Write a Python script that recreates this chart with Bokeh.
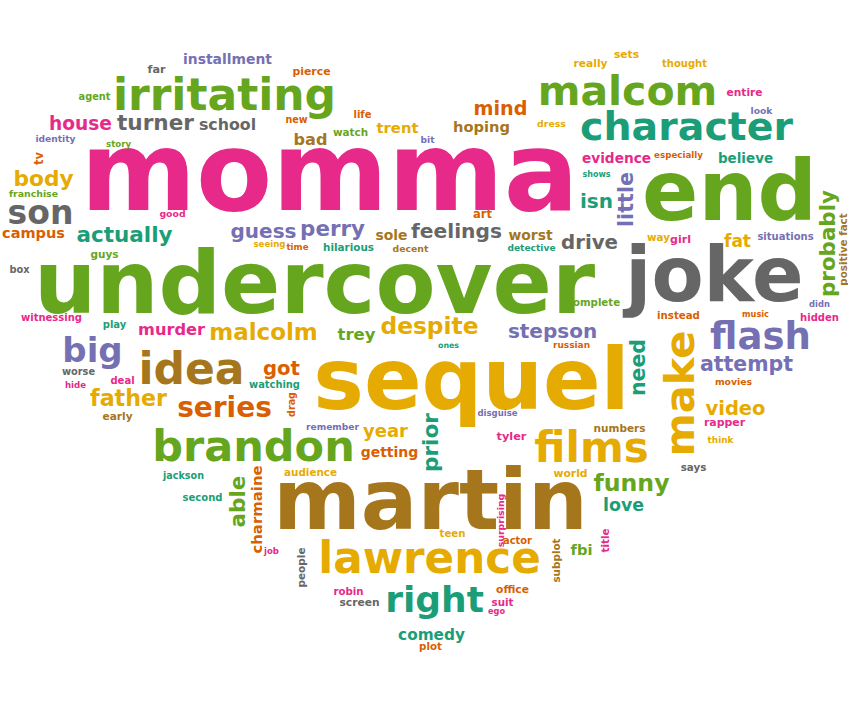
import numpy as np
from bokeh.plotting import figure
from bokeh.models import ColumnDataSource, Range1d
from bokeh.core.properties import value
from bokeh.embed import file_html
from bokeh.resources import INLINE

# words of the cloud and their weight (weight ~ font size in px)
words = [
    "momma", "undercover", "sequel", "martin", "end", "joke",
    "irritating", "malcom", "character", "brandon", "lawrence", "films",
    "idea", "flash", "right", "big", "make", "probably",
    "series", "malcolm", "despite", "stepson", "actually", "son",
    "body", "house", "turner", "school", "feelings", "guess",
    "perry", "drive", "little", "evidence", "father", "video",
    "attempt", "funny", "mind", "hoping", "murder", "year",
    "getting", "got", "need", "prior", "able", "charmaine",
    "love", "comedy", "trent", "bad", "trey", "sole",
    "worst", "installment", "campus", "isn", "believe", "audience",
    "witnessing", "remember", "complete", "instead", "hidden", "situations",
    "fat", "detective", "hilarious", "decent", "jackson", "second",
    "tyler", "numbers", "world", "office", "screen", "robin",
    "suit", "ego", "plot", "teen", "actor", "fbi",
    "title", "subplot", "surprising", "people", "job", "disguise",
    "ones", "russian", "movies", "rapper", "think", "says",
    "didn", "music", "way", "girl", "positive fact", "entire",
    "look", "thought", "really", "sets", "especially", "shows",
    "dress", "art", "bit", "watch", "life", "new",
    "pierce", "far", "agent", "identity", "story", "tv",
    "franchise", "good", "seeing", "time", "guys", "box",
    "play", "worse", "deal", "hide", "watching", "early",
    "drag",
]
counts = [
    111, 87.5, 85, 84, 83, 76,
    44, 41, 39.5, 43, 43.7, 42,
    44, 37, 36, 34, 41.5, 21.4,
    28, 23, 23.3, 20, 21.5, 33,
    21.7, 18.6, 21.6, 15.8, 20.2, 20,
    21.4, 19.8, 20.7, 13.7, 22.2, 19.5,
    20.5, 23.6, 19.2, 14.7, 16.2, 18,
    14, 19.7, 20.5, 21.6, 21.5, 14.9,
    17.4, 15.3, 14.8, 16.1, 16.5, 13.9,
    13.9, 13.9, 14.5, 20, 13.5, 10.4,
    10, 9.1, 10.2, 10.2, 10, 10,
    17, 9.1, 10.4, 9.3, 9.6, 10,
    11.3, 10.5, 10.8, 10.7, 10.7, 10.2,
    10.3, 8.2, 10.3, 10.2, 9.9, 14.7,
    10.3, 10.4, 9.4, 10.5, 8.6, 8.5,
    7.9, 9, 9.3, 10.9, 8.9, 10.3,
    8.4, 8.2, 10.3, 11, 10.3, 10.6,
    9.2, 10, 10.7, 10.7, 8.7, 8,
    9.4, 11.5, 9.1, 10.4, 10, 9.6,
    10.9, 11.2, 9.8, 9.1, 8.6, 11.5,
    9.4, 9.3, 8.6, 8.7, 10.5, 9.8,
    10, 9.8, 10, 8.6, 9.9, 10.6,
    9.6,
]

# placement in the heart (x centre, baseline y in page pixels, rotation in degrees)
word_x = [
    329, 314, 471, 430, 729, 714,
    224, 627, 686, 253, 429, 591,
    191, 760, 434, 92, 694, 835,
    224, 263, 429, 552, 124, 40,
    43, 80, 155, 227, 456, 263,
    332, 589, 633, 616, 128, 735,
    746, 631, 500, 481, 171, 385,
    389, 281, 645, 438, 245, 262,
    623, 431, 397, 310, 356, 391,
    530, 227, 33, 596, 745, 310,
    51, 332, 593, 678, 819, 785,
    737, 531, 348, 410, 183, 202,
    511, 619, 570, 512, 359, 348,
    502, 496, 430, 452, 517, 581,
    608, 559, 503, 304, 271, 497,
    448, 571, 733, 724, 720, 693,
    819, 755, 658, 680, 846, 744,
    761, 684, 590, 626, 678, 596,
    551, 482, 427, 350, 362, 296,
    311, 156, 94, 55, 118, 43,
    33, 172, 269, 297, 104, 19,
    114, 78, 122, 75, 274, 117,
    294.5,
]
word_y = [
    212, 315, 410, 531, 222, 302,
    110, 106, 140, 461, 573, 463,
    384, 350, 612, 362, 393, 243,
    417, 340, 334, 338, 242, 224,
    186, 130, 130, 130, 238, 238,
    236, 249, 199, 163, 406, 415,
    371, 491, 115, 131, 335, 437,
    457, 375, 367, 442, 501, 509,
    511, 640, 132, 145, 340, 240,
    240, 64, 238, 208, 162, 475,
    321, 430, 306, 319, 321, 240,
    247, 251, 250, 251, 479, 501,
    440, 431, 477, 593, 606, 595,
    605, 614, 649, 537, 544, 554,
    540, 560, 520, 567, 554, 416,
    348, 348, 384, 426, 443, 470,
    307, 317, 240, 243, 249, 95,
    113, 67, 67, 58, 158, 177,
    126, 218, 143, 135, 118, 123,
    75, 73, 100, 142, 147, 158,
    196, 216, 247, 250, 257, 273,
    328, 375, 384, 388, 388, 419,
    404,
]
rotation = [90 if w in ("make", "probably", "little", "need", "prior", "able",
                        "charmaine", "title", "subplot", "surprising", "people",
                        "positive fact", "tv", "drag") else 0 for w in words]

word_color = [
    "pink", "green", "gold", "brown", "green", "gray",
    "green", "green", "teal", "green", "gold", "gold",
    "brown", "purple", "teal", "purple", "gold", "green",
    "orange", "gold", "gold", "purple", "teal", "gray",
    "gold", "pink", "gray", "gray", "gray", "purple",
    "purple", "gray", "purple", "pink", "gold", "gold",
    "purple", "green", "orange", "brown", "pink", "gold",
    "orange", "orange", "teal", "teal", "green", "orange",
    "teal", "teal", "gold", "brown", "green", "brown",
    "brown", "purple", "orange", "teal", "teal", "gold",
    "pink", "purple", "green", "orange", "pink", "purple",
    "gold", "teal", "teal", "brown", "teal", "teal",
    "pink", "brown", "gold", "orange", "gray", "pink",
    "pink", "pink", "orange", "gold", "orange", "green",
    "pink", "brown", "pink", "gray", "pink", "purple",
    "teal", "orange", "orange", "pink", "gold", "gray",
    "purple", "orange", "gold", "pink", "brown", "pink",
    "purple", "gold", "gold", "gold", "orange", "teal",
    "gold", "orange", "purple", "green", "orange", "orange",
    "orange", "gray", "green", "purple", "green", "orange",
    "green", "pink", "gold", "orange", "green", "gray",
    "teal", "gray", "pink", "pink", "teal", "brown",
    "orange",
]

dark2 = {
    "teal": "#1b9e77", "orange": "#d95f02", "purple": "#7570b3", "pink": "#e7298a",
    "green": "#66a61e", "gold": "#e6ab02", "brown": "#a6761d", "gray": "#666666",
}

# svg text lands ~0.37em below the requested baseline, pull the anchor back
shift = 0.37 * np.array(counts)
ang = np.radians(rotation)
xs = np.array(word_x) - shift * np.sin(ang)
ys = np.array(word_y) - shift * np.cos(ang)

src = ColumnDataSource(data=dict(
    x=xs,
    y=ys,
    word=words,
    angle=ang,
    size=["%.1fpx" % c for c in counts],
    color=[dark2[c] for c in word_color],
))

p = figure(
    width=848, height=704,
    x_range=Range1d(0, 848), y_range=Range1d(704, 0),
    x_axis_location=None, y_axis_location=None,
    output_backend="svg", toolbar_location=None,
    min_border=0,
)
p.grid.visible = False
p.outline_line_color = None
p.background_fill_color = "white"

p.text(x="x", y="y", text="word", angle="angle", source=src,
       text_font_size="size", text_color="color",
       text_font=value("DejaVu Sans"), text_font_style="bold",
       text_align="center", text_baseline="alphabetic")

open("out.html", "w").write(file_html(p, INLINE))
